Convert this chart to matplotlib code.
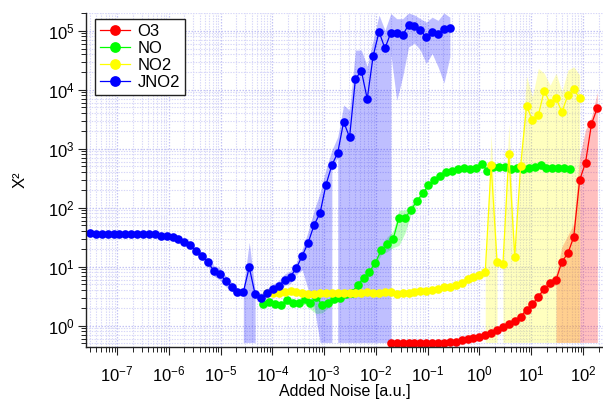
import matplotlib
matplotlib.use("Agg")
import matplotlib.pyplot as plt
from matplotlib.ticker import LogLocator, NullFormatter, FixedLocator
import numpy as np

plt.rcParams.update({
    "font.family": ["Liberation Sans", "DejaVu Sans"],
    "mathtext.fontset": "custom",
    "mathtext.rm": "Liberation Sans",
    "mathtext.it": "Liberation Sans:italic",
    "mathtext.bf": "Liberation Sans:bold",
    "axes.unicode_minus": False,
})

# ---------------- data ----------------
FLOOR = 0.52  # lower limit of shaded bands where they reach the bottom

x_JNO2 = [3.00e-8, 3.90e-8, 5.07e-8, 6.59e-8, 8.57e-8, 1.114e-7, 1.448e-7, 1.883e-7, 2.447e-7, 3.18e-7,
          4.14e-7, 5.38e-7, 6.99e-7, 9.09e-7, 1.181e-6, 1.536e-6, 1.996e-6, 2.595e-6, 3.37e-6, 4.39e-6,
          5.70e-6, 7.41e-6, 9.64e-6, 1.253e-5, 1.628e-5, 2.117e-5, 2.752e-5, 3.58e-5, 4.65e-5, 6.05e-5,
          7.86e-5, 1.022e-4, 1.328e-4, 1.727e-4, 2.245e-4, 2.919e-4, 3.79e-4, 4.93e-4, 6.41e-4, 8.34e-4,
          1.084e-3, 1.409e-3, 1.832e-3, 2.381e-3, 3.10e-3, 4.02e-3, 5.23e-3, 6.80e-3, 8.84e-3, 1.149e-2,
          1.494e-2, 1.942e-2, 2.525e-2, 3.28e-2, 4.27e-2, 5.55e-2, 7.21e-2, 9.38e-2, 0.1219, 0.1584,
          0.206, 0.268]
JNO2_y = [36.8, 35.4, 35.4, 35.4, 35.4, 36.0, 36.5, 35.4, 35.4, 35.4,
          35.4, 36.0, 33.5, 33.5, 32.0, 29.5, 26.5, 23.3, 18.7, 15.3,
          11.8, 8.6, 7.6, 5.7, 4.6, 3.7, 3.7, 9.8, 3.4, 3.0,
          3.6, 4.2, 4.7, 6.0, 6.8, 9.5, 15.4, 25.7, 51, 81,
          243, 525, 855, 2870, 1560, 15200, 21000, 7000, 37200, 96000,
          50300, 92500, 90000, 84500, 125000, 121000, 103000, 77000, 96000, 88000,
          107000, 110000]
JNO2_lo = [35, 33.6, 33.6, 33.6, 33.6, 34.2, 34.7, 33.6, 33.6, 33.6,
           33.6, 34.2, 32, 31.5, 30, 27.5, 24.5, 21, 16.5, 13.3,
           10, 7, 6, 4.6, 3.9, 3.2, 3.2, 0.52, 2.9, 2.6,
           3.0, 3.5, 3.8, 4.8, 5.2, 7.5, 8.8, 4.0, 2.1, 0.52,
           0.52, 420, 700, 0.52, 0.52, 0.52, 0.52, 0.52, 0.52, 0.52,
           0.52, 40000, 6600, 16600, 53000, 62000, 47000, 28000, 41000, 24500,
           13000, 36000]
JNO2_hi = [38.5, 37, 37, 37, 37, 37.6, 38, 37, 37, 37,
           37, 37.6, 35, 35.5, 34, 31.5, 28.5, 25.5, 21, 17.5,
           14, 10.5, 9.5, 7, 5.5, 4.3, 4.3, 26, 4.0, 3.5,
           4.2, 5.0, 5.8, 7.5, 8.5, 12, 20, 40, 90, 180,
           450, 940, 1600, 5500, 4500, 47000, 47000, 25000, 69000, 185000,
           102000, 196000, 160000, 160000, 200000, 185000, 160000, 140000, 170000, 150000,
           200000, 170000]
JNO2_segments = [(0, 26, False), (26, 28, True), (28, 39, False), (39, 41, True),
                 (41, 42, False), (42, 51, True), (51, 61, False)]

x_NO2 = [7.86e-5, 1.022e-4, 1.328e-4, 1.727e-4, 2.245e-4, 2.919e-4, 3.79e-4, 4.93e-4, 6.41e-4, 8.34e-4,
         1.084e-3, 1.409e-3, 1.832e-3, 2.381e-3, 3.10e-3, 4.02e-3, 5.23e-3, 6.80e-3, 8.84e-3, 1.149e-2,
         1.494e-2, 1.942e-2, 2.525e-2, 3.28e-2, 4.27e-2, 5.55e-2, 7.21e-2, 9.38e-2, 0.1219, 0.1584,
         0.206, 0.268, 0.348, 0.4525, 0.588, 0.765, 0.994, 1.292, 1.680, 2.184,
         2.839, 3.691, 4.799, 6.238, 8.110, 10.54, 13.71, 17.82, 23.16, 30.11,
         39.14, 50.89, 66.15, 86.0]
NO2_y = [3.6, 3.54, 3.63, 3.77, 3.87, 3.68, 3.54, 3.45, 3.45, 3.54,
         3.54, 3.63, 3.63, 3.54, 3.54, 3.63, 3.63, 3.72, 3.63, 3.63,
         3.7, 3.77, 3.45, 3.54, 3.63, 3.77, 3.85, 3.9, 4.03, 4.2,
         4.45, 4.6, 4.8, 5.36, 6.2, 6.7, 7.3, 8.0, 530, 12.2,
         11.0, 815, 14.8, 515, 5300, 3060, 3720, 9600, 5880, 7150,
         4190, 8040, 10200, 7150]
NO2_lo = [3.3, 3.25, 3.35, 3.5, 3.55, 3.4, 3.25, 3.2, 3.2, 3.25,
          3.25, 3.35, 3.35, 3.25, 3.25, 3.35, 3.35, 3.45, 3.35, 3.35,
          3.4, 3.5, 3.2, 3.25, 3.35, 3.5, 3.55, 3.6, 3.7, 3.85,
          4.0, 4.2, 4.35, 4.8, 5.3, 5.7, 6.2, 6.8, 0.52, 10,
          9.5, 0.52, 0.52, 0.52, 0.52, 0.52, 0.52, 0.52, 0.52, 0.52,
          0.52, 0.52, 0.52, 0.52]
NO2_hi = [3.9, 3.8, 3.9, 4.05, 4.15, 3.95, 3.8, 3.75, 3.75, 3.8,
          3.8, 3.9, 3.9, 3.8, 3.8, 3.9, 3.9, 4.0, 3.9, 3.9,
          4.0, 4.05, 3.75, 3.8, 3.9, 4.05, 4.15, 4.2, 4.4, 4.6,
          4.9, 5.0, 5.3, 6.0, 7.3, 7.8, 8.5, 9.5, 1800, 14,
          13, 2700, 18, 600, 17000, 7600, 23000, 19000, 12000, 19000,
          9300, 21500, 24500, 17800]
NO2_segments = [(0, 37, False), (37, 39, True), (39, 40, False), (40, 53, True)]

x_NO = [6.68e-5, 8.68e-5, 1.129e-4, 1.468e-4, 1.908e-4, 2.480e-4, 3.224e-4, 4.192e-4, 5.449e-4, 7.08e-4,
        9.21e-4, 1.197e-3, 1.556e-3, 2.023e-3, 2.630e-3, 3.419e-3, 4.445e-3, 5.778e-3, 7.51e-3, 9.77e-3,
        1.270e-2, 1.651e-2, 2.146e-2, 2.789e-2, 3.626e-2, 4.713e-2, 6.128e-2, 7.97e-2, 0.1035, 0.1346,
        0.1750, 0.2275, 0.2958, 0.3845, 0.4999, 0.650, 0.845, 1.098, 1.428, 1.856,
        2.413, 3.137, 4.078, 5.30, 6.89, 8.96, 11.65, 15.14, 19.69, 25.59,
        33.27, 43.25, 56.2]
NO_y = [2.30, 2.55, 2.33, 2.24, 2.73, 2.45, 2.39, 2.80, 2.45, 3.03,
        2.24, 2.39, 2.83, 2.91, 3.44, 3.63, 4.9, 6.4, 8.2, 11.7,
        19.2, 23.9, 29.1, 68, 66, 91, 128, 175, 238, 294,
        348, 398, 424, 447, 466, 455, 466, 550, 424, 484,
        490, 495, 447, 476, 447, 480, 490, 530, 466, 476,
        476, 476, 447]
NO_lo = [2.1, 2.3, 2.1, 2.0, 2.45, 2.2, 2.15, 2.3, 1.9, 1.6,
         1.65, 2.0, 2.5, 2.6, 3.1, 3.3, 4.4, 5.8, 7.4, 10.5,
         16, 18, 21, 23, 37, 75, 115, 160, 220, 275,
         325, 375, 400, 420, 440, 430, 440, 510, 395, 455,
         460, 465, 420, 445, 420, 450, 460, 495, 440, 445,
         445, 445, 420]
NO_hi = [2.5, 2.8, 2.55, 2.45, 3.0, 2.7, 2.65, 3.1, 2.8, 3.3,
         2.5, 2.6, 3.1, 3.2, 3.8, 4.0, 5.4, 7.0, 9.0, 13,
         22, 32, 40, 91, 91, 110, 140, 190, 255, 315,
         370, 420, 450, 475, 495, 480, 495, 590, 455, 515,
         520, 525, 475, 505, 475, 510, 520, 565, 495, 505,
         505, 505, 475]
NO_segments = [(0, 52, False)]

x_O3 = [1.942e-2, 2.525e-2, 3.28e-2, 4.27e-2, 5.55e-2, 7.21e-2, 9.38e-2, 0.1219, 0.1584, 0.206,
        0.268, 0.348, 0.4525, 0.588, 0.765, 0.994, 1.292, 1.680, 2.184, 2.839,
        3.691, 4.799, 6.238, 8.110, 10.54, 13.71, 17.82, 23.16, 30.11, 39.14,
        50.89, 66.15, 86.0, 111.8, 145.3, 188.9]
O3_y = [0.515, 0.50, 0.50, 0.50, 0.50, 0.50, 0.515, 0.515, 0.515, 0.515,
        0.53, 0.535, 0.57, 0.59, 0.61, 0.65, 0.70, 0.76, 0.86, 0.95,
        1.08, 1.22, 1.42, 1.85, 2.3, 3.1, 4.2, 5.2, 5.95, 12.2,
        16.8, 32, 294, 580, 2600, 4960]
O3_lo = [0.49, 0.475, 0.475, 0.475, 0.475, 0.475, 0.49, 0.49, 0.49, 0.49,
         0.505, 0.51, 0.54, 0.56, 0.58, 0.61, 0.65, 0.70, 0.79, 0.87,
         0.98, 1.1, 1.27, 1.65, 2.0, 2.7, 3.6, 4.4, 4.9, 0.52,
         0.52, 0.52, 0.52, 0.52, 0.52, 0.52]
O3_hi = [0.54, 0.525, 0.525, 0.525, 0.525, 0.525, 0.54, 0.54, 0.54, 0.54,
         0.555, 0.56, 0.6, 0.62, 0.64, 0.69, 0.75, 0.82, 0.93, 1.03,
         1.18, 1.34, 1.57, 2.05, 2.6, 3.5, 4.8, 6.0, 7.5, 22,
         34, 54, 735, 2100, 3500, 9000]
O3_segments = [(0, 28, False), (28, 35, True)]

series_names = ["O3", "NO", "NO2", "JNO2"]
series_colors = ["#ff0000", "#00ff00", "#ffff00", "#0000ff"]

XLIM = (2.52e-8, 243)
YLIM = (0.435, 2.0e5)

# ---------------- figure ----------------
W, H = 603, 399
fig = plt.figure(figsize=(W / 100, H / 100), dpi=100)
L, R, T, B = 86, 603, 13, 347
ax = fig.add_axes([L / W, 1 - B / H, (R - L) / W, (B - T) / H])

all_series = [
    (x_O3, O3_y, O3_lo, O3_hi, O3_segments),
    (x_NO, NO_y, NO_lo, NO_hi, NO_segments),
    (x_NO2, NO2_y, NO2_lo, NO2_hi, NO2_segments),
    (x_JNO2, JNO2_y, JNO2_lo, JNO2_hi, JNO2_segments),
]

for (x, y, lo, hi, segs), name, col in zip(all_series, series_names, series_colors):
    for a, b, to_floor in segs:
        xs = x[a:b + 1]
        hs = hi[a:b + 1]
        ls = [FLOOR] * len(xs) if to_floor else lo[a:b + 1]
        ax.fill_between(xs, ls, hs, color=col, alpha=0.25, linewidth=0)
    ax.plot(x, y, "-o", color=col, lw=0.9, ms=6.2, mew=0, label=name)

ax.set_xscale("log")
ax.set_yscale("log")
ax.set_xlim(*XLIM)
ax.set_ylim(*YLIM)


def in_range_ticks(lim, minor):
    loc = LogLocator(base=10, subs=(np.arange(2, 10) if minor else (1.0,)), numticks=40)
    vals = loc.tick_values(*lim)
    return [v for v in vals if lim[0] <= v <= lim[1]]


ax.xaxis.set_major_locator(FixedLocator(in_range_ticks(XLIM, False)))
ax.xaxis.set_minor_locator(FixedLocator(in_range_ticks(XLIM, True)))
ax.yaxis.set_major_locator(FixedLocator(in_range_ticks(YLIM, False)))
ax.yaxis.set_minor_locator(FixedLocator(in_range_ticks(YLIM, True)))
from matplotlib.ticker import LogFormatterSciNotation
ax.xaxis.set_major_formatter(LogFormatterSciNotation(base=10))
ax.yaxis.set_major_formatter(LogFormatterSciNotation(base=10))
ax.xaxis.set_minor_formatter(NullFormatter())
ax.yaxis.set_minor_formatter(NullFormatter())

ax.set_axisbelow(True)
ax.grid(which="major", color="#c4c4f4", linestyle=(0, (1.2, 1.2)), linewidth=0.9)
ax.grid(which="minor", color="#d6d6f8", linestyle=(0, (1.2, 1.2)), linewidth=0.8)

for s in ["top", "right"]:
    ax.spines[s].set_visible(False)
for s in ["left", "bottom"]:
    ax.spines[s].set_linewidth(1.0)
    ax.spines[s].set_color("#222222")

ax.tick_params(which="major", direction="out", length=6, width=0.8, colors="#222222",
               labelsize=12, labelcolor="black")
ax.tick_params(which="minor", direction="out", length=3.3, width=0.7, colors="#222222")
ax.tick_params(axis="x", which="major", pad=6.5)
ax.tick_params(axis="y", which="major", pad=2)

ax.set_xlabel("Added Noise [a.u.]", fontsize=11.5)
ax.xaxis.set_label_coords(0.5, (B - 384) / (B - T))
ax.set_ylabel("X\u00b2", fontsize=12)
ax.yaxis.set_label_coords((28 - L) / (R - L), 0.5)

leg = ax.legend(loc="upper left", bbox_to_anchor=(9 / (R - L), 1 - 6 / (B - T)),
                borderaxespad=0, frameon=True, fancybox=False, framealpha=1,
                edgecolor="#222222", fontsize=12, handlelength=1.8,
                handletextpad=0.45, labelspacing=0.12, borderpad=0.3,
                markerscale=1.25)
leg.get_frame().set_linewidth(1.0)

fig.savefig("out.png", dpi=100)
